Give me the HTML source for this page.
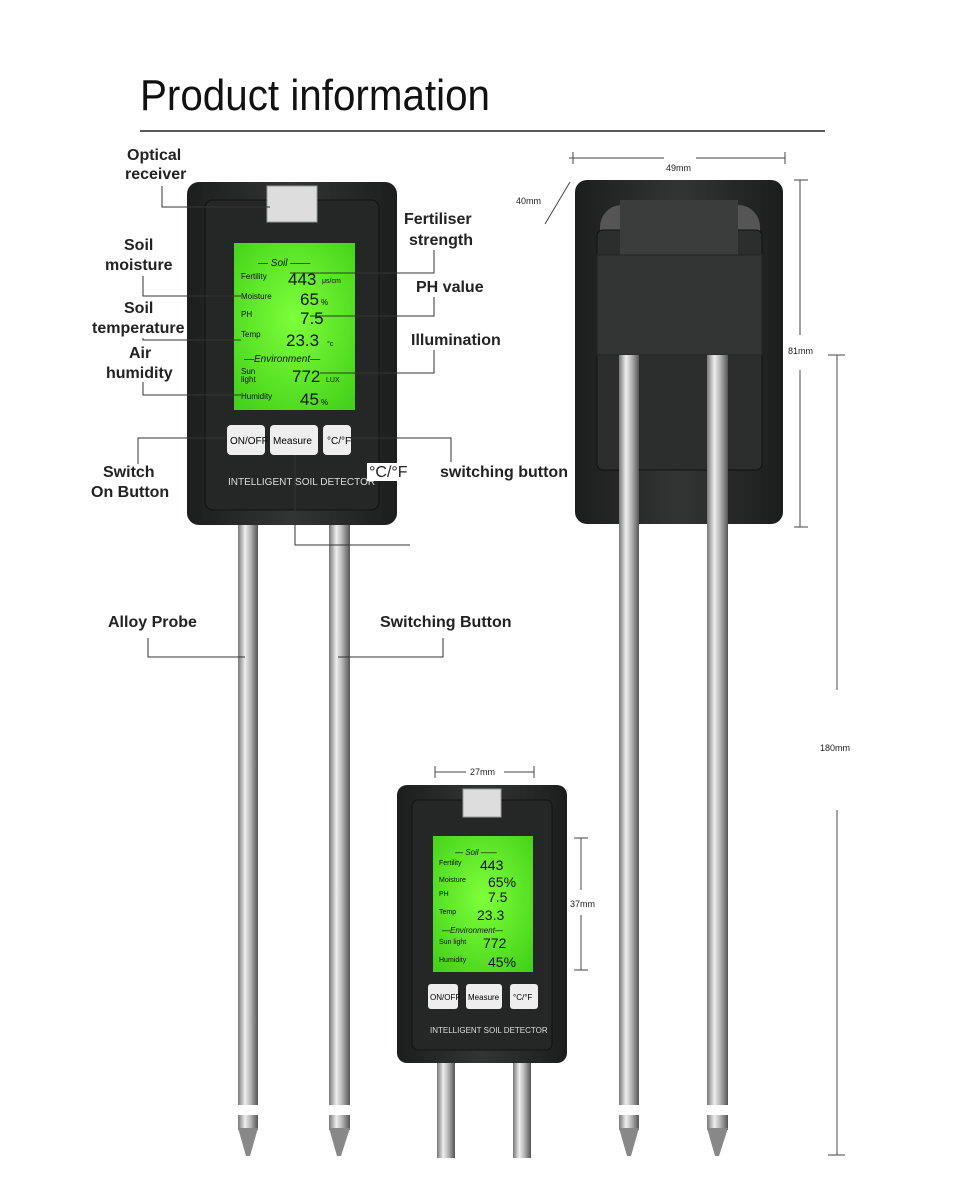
<!DOCTYPE html>
<html><head><meta charset="utf-8"><style>
body{margin:0;background:#fff}
svg{display:block}
text{font-family:"Liberation Sans",sans-serif}
.l{font-weight:bold;font-size:16px;fill:#222}
.s{font-size:9px;fill:#222}
.ln{stroke:#333;stroke-width:1;fill:none}
.lcd{font-family:"Liberation Mono",monospace;fill:#111}
</style></head><body>
<svg width="961" height="1197" viewBox="0 0 961 1197">
<defs>
<linearGradient id="rod" x1="0" x2="1"><stop offset="0" stop-color="#777"/><stop offset=".35" stop-color="#eee"/><stop offset=".6" stop-color="#bbb"/><stop offset="1" stop-color="#555"/></linearGradient>
<linearGradient id="body" x1="0" x2="1"><stop offset="0" stop-color="#1c1e1d"/><stop offset=".5" stop-color="#333534"/><stop offset="1" stop-color="#1c1e1d"/></linearGradient>
<radialGradient id="scr" cx=".5" cy=".45" r=".7"><stop offset="0" stop-color="#7dff3a"/><stop offset="1" stop-color="#44d11a"/></radialGradient>
</defs>
<text x="140" y="110" font-size="44" fill="#111" textLength="350" lengthAdjust="spacingAndGlyphs">Product information</text>
<line x1="140" y1="131" x2="825" y2="131" stroke="#222" stroke-width="1.5"/>

<g>
<rect x="238" y="520" width="20" height="610" fill="url(#rod)"/><rect x="238" y="1105" width="20" height="10" fill="#fff"/><polygon points="238,1128 258,1128 250,1156 246,1156" fill="#888"/>
<rect x="329" y="520" width="21" height="610" fill="url(#rod)"/><rect x="329" y="1105" width="21" height="10" fill="#fff"/><polygon points="329,1128 350,1128 341,1156 337,1156" fill="#888"/>
</g>
<rect x="187" y="182" width="210" height="343" rx="12" fill="url(#body)"/>
<rect x="205" y="200" width="174" height="310" rx="8" fill="#252726" stroke="#111"/>
<rect x="267" y="186" width="50" height="36" fill="#ddd" stroke="#999"/>
<rect x="234" y="243" width="121" height="167" fill="url(#scr)"/>
<g class="lcd">
<text x="258" y="266" font-size="10" font-style="italic">— Soil ——</text>
<text x="241" y="279" font-size="8">Fertility</text><text x="288" y="285" font-size="17">443</text><text x="322" y="283" font-size="7">μs/cm</text>
<text x="241" y="299" font-size="8">Moisture</text><text x="300" y="305" font-size="17">65</text><text x="321" y="305" font-size="8">%</text>
<text x="241" y="317" font-size="8">PH</text><text x="300" y="324" font-size="17">7.5</text>
<text x="241" y="337" font-size="8">Temp</text><text x="286" y="346" font-size="17">23.3</text><text x="327" y="346" font-size="7">°c</text>
<text x="244" y="362" font-size="10" font-style="italic">—Environment—</text>
<text x="241" y="374" font-size="8">Sun</text><text x="241" y="382" font-size="8">light</text><text x="292" y="382" font-size="17">772</text><text x="326" y="382" font-size="7">LUX</text>
<text x="241" y="399" font-size="8">Humidity</text><text x="300" y="405" font-size="17">45</text><text x="321" y="405" font-size="8">%</text>
</g>
<rect x="227" y="425" width="38" height="30" rx="4" fill="#eee"/><text x="230" y="444" font-size="10">ON/OFF</text>
<rect x="270" y="425" width="48" height="30" rx="4" fill="#eee"/><text x="273" y="444" font-size="10">Measure</text>
<rect x="323" y="425" width="28" height="30" rx="4" fill="#eee"/><text x="327" y="444" font-size="10">°C/°F</text>
<text x="228" y="485" font-size="10" fill="#ddd">INTELLIGENT SOIL DETECTOR</text>

<text class="l" x="127" y="160">Optical</text><text class="l" x="125" y="179">receiver</text>
<polyline class="ln" points="162,186 162,207 270,207"/>
<text class="l" x="404" y="224">Fertiliser</text><text class="l" x="409" y="245">strength</text>
<polyline class="ln" points="434,250 434,273 290,273"/>
<text class="l" x="124" y="250">Soil</text><text class="l" x="105" y="270">moisture</text>
<polyline class="ln" points="143,276 143,296 241,296"/>
<text class="l" x="416" y="292">PH value</text>
<polyline class="ln" points="434,297 434,316 310,316"/>
<text class="l" x="124" y="313">Soil</text><text class="l" x="92" y="333">temperature</text>
<polyline class="ln" points="143,338 143,340 241,340"/>
<text class="l" x="411" y="345">Illumination</text>
<polyline class="ln" points="434,350 434,373 320,373"/>
<text class="l" x="129" y="358">Air</text><text class="l" x="106" y="378">humidity</text>
<polyline class="ln" points="143,382 143,395 241,395"/>
<polyline class="ln" points="138,464 138,438 227,438"/>
<text class="l" x="103" y="477">Switch</text><text class="l" x="91" y="497">On Button</text>
<polyline class="ln" points="350,438 451,438 451,462"/>
<rect x="367" y="463" width="70" height="18" fill="#fff"/>
<text x="369" y="477" font-family="Liberation Serif" font-size="16" fill="#222">°C/°F</text>
<text class="l" x="440" y="477">switching button</text>
<polyline class="ln" points="295,455 295,545 410,545"/>
<text class="l" x="108" y="627">Alloy Probe</text>
<polyline class="ln" points="148,638 148,657 245,657"/>
<text class="l" x="380" y="627">Switching Button</text>
<polyline class="ln" points="443,638 443,657 338,657"/>

<rect x="619" y="340" width="20" height="790" fill="url(#rod)"/><rect x="619" y="1105" width="20" height="10" fill="#fff"/><polygon points="619,1128 639,1128 631,1156 627,1156" fill="#888"/>
<rect x="707" y="340" width="21" height="790" fill="url(#rod)"/><rect x="707" y="1105" width="21" height="10" fill="#fff"/><polygon points="707,1128 728,1128 719,1156 715,1156" fill="#888"/>
<rect x="575" y="180" width="208" height="344" rx="12" fill="url(#body)"/>
<rect x="600" y="205" width="50" height="50" rx="22" fill="#555"/><rect x="710" y="205" width="50" height="50" rx="22" fill="#555"/>
<rect x="597" y="230" width="165" height="240" rx="6" fill="#2c2e2d" stroke="#111"/>
<rect x="620" y="200" width="118" height="60" fill="#3b3d3c"/>
<rect x="597" y="255" width="165" height="100" fill="#333534" stroke="#222"/>
<rect x="619" y="355" width="20" height="170" fill="url(#rod)"/><rect x="707" y="355" width="21" height="170" fill="url(#rod)"/>
<line x1="569" y1="158" x2="785" y2="158" stroke="#444"/><line x1="573" y1="152" x2="573" y2="164" stroke="#444"/><line x1="785" y1="152" x2="785" y2="164" stroke="#444"/>
<rect x="664" y="150" width="32" height="14" fill="#fff"/><text class="s" x="666" y="171">49mm</text>
<text class="s" x="516" y="204">40mm</text><line x1="545" y1="224" x2="570" y2="182" stroke="#444"/>
<line x1="800" y1="180" x2="800" y2="335" stroke="#444"/><line x1="800" y1="370" x2="800" y2="527" stroke="#444"/><line x1="794" y1="180" x2="808" y2="180" stroke="#444"/><line x1="794" y1="527" x2="808" y2="527" stroke="#444"/>
<text class="s" x="788" y="354">81mm</text>
<line x1="837" y1="355" x2="837" y2="690" stroke="#444"/><line x1="837" y1="810" x2="837" y2="1155" stroke="#444"/><line x1="828" y1="355" x2="845" y2="355" stroke="#444"/><line x1="828" y1="1155" x2="845" y2="1155" stroke="#444"/>
<text class="s" x="820" y="751">180mm</text>

<rect x="437" y="1055" width="18" height="103" fill="url(#rod)"/><rect x="513" y="1055" width="18" height="103" fill="url(#rod)"/>
<rect x="397" y="785" width="170" height="278" rx="10" fill="url(#body)"/>
<rect x="412" y="800" width="140" height="250" rx="6" fill="#252726" stroke="#111"/>
<rect x="463" y="789" width="38" height="28" fill="#ddd" stroke="#999"/>
<rect x="433" y="836" width="100" height="136" fill="url(#scr)"/>
<g class="lcd">
<text x="455" y="855" font-size="8" font-style="italic">— Soil ——</text>
<text x="439" y="865" font-size="7">Fertility</text><text x="480" y="870" font-size="14">443</text>
<text x="439" y="882" font-size="7">Moisture</text><text x="488" y="887" font-size="14">65%</text>
<text x="439" y="896" font-size="7">PH</text><text x="488" y="902" font-size="14">7.5</text>
<text x="439" y="914" font-size="7">Temp</text><text x="477" y="920" font-size="14">23.3</text>
<text x="442" y="933" font-size="8" font-style="italic">—Environment—</text>
<text x="439" y="944" font-size="7">Sun light</text><text x="483" y="948" font-size="14">772</text>
<text x="439" y="962" font-size="7">Humidity</text><text x="488" y="967" font-size="14">45%</text>
</g>
<rect x="428" y="984" width="30" height="25" rx="3" fill="#eee"/><text x="430" y="1000" font-size="8">ON/OFF</text>
<rect x="466" y="984" width="36" height="25" rx="3" fill="#eee"/><text x="468" y="1000" font-size="8">Measure</text>
<rect x="510" y="984" width="28" height="25" rx="3" fill="#eee"/><text x="513" y="1000" font-size="8">°C/°F</text>
<text x="430" y="1033" font-size="8" fill="#ddd">INTELLIGENT SOIL DETECTOR</text>
<line x1="435" y1="772" x2="534" y2="772" stroke="#444"/><line x1="435" y1="766" x2="435" y2="778" stroke="#444"/><line x1="534" y1="766" x2="534" y2="778" stroke="#444"/>
<rect x="466" y="765" width="38" height="14" fill="#fff"/><text class="s" x="470" y="775">27mm</text>
<line x1="581" y1="838" x2="581" y2="890" stroke="#444"/><line x1="581" y1="915" x2="581" y2="970" stroke="#444"/><line x1="574" y1="838" x2="588" y2="838" stroke="#444"/><line x1="574" y1="970" x2="588" y2="970" stroke="#444"/>
<text class="s" x="570" y="907">37mm</text>
</svg>
</body></html>
